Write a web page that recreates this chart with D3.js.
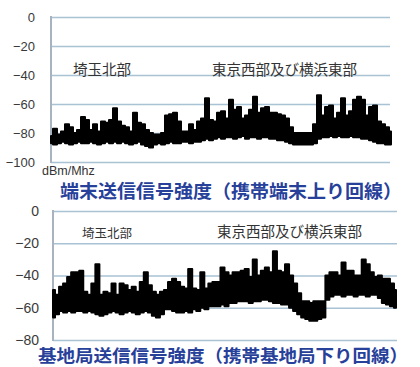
<!DOCTYPE html>
<html>
<head>
<meta charset="utf-8">
<script src="https://cdn.jsdelivr.net/npm/d3@7"></script>
<style>
  body { margin: 0; background: #fff; }
  svg { display: block; }
  .tick text { font-family: "Liberation Sans", Arial, sans-serif; fill: #3a3a3a; }
</style>
</head>
<body>
<div id="container"></div>
<script>
// upper / lower edge of the noisy trace, dBm/MHz, one value per sample
var uplinkHigh = [-82,-77,-81,-79,-74,-76,-80,-78,-69,-71,-78,-74,-79,-72,-73,-71,-63,-72,-75,-76,
    -79,-66,-73,-74,-78,-80,-81,-81,-80,-68,-67,-66,-72,-79,-79,-74,-78,-72,-70,-56,
    -71,-72,-66,-65,-70,-57,-64,-62,-70,-68,-64,-55,-66,-63,-62,-66,-66,-67,-68,-70,
    -76,-80,-80,-80,-80,-80,-74,-54,-68,-62,-61,-70,-66,-56,-68,-65,-57,-55,-57,-68,
    -62,-61,-72,-74,-76,-79];
var uplinkLow = [-87,-88,-87,-86,-87,-88,-87,-86,-87,-87,-86,-87,-88,-87,-86,
    -87,-86,-87,-86,-87,-88,-87,-86,-88,-89,-90,-88,-87,-88,
    -87,-86,-87,-87,-86,-86,-87,-86,-86,-85,
    -84,-85,-84,-83,-84,-83,-83,-84,-83,-82,-84,-83,-83,-84,-83,-83,-84,-84,-85,-85,-86,
    -87,-88,-88,-88,-88,-88,-87,
    -84,-83,-83,-82,-83,-82,-83,-83,-82,-83,-83,-84,-84,
    -85,-86,-87,-87,-88,-88];
var downlinkHigh = [-49,-52,-47,-45,-41,-38,-38,-37,-50,-52,-45,-33,-52,-50,-51,-45,-52,-45,-46,-49,
    -47,-50,-44,-38,-46,-50,-52,-50,-49,-44,-42,-44,-47,-48,-36,-48,-49,-38,-48,-45,
    -44,-44,-35,-38,-40,-38,-38,-37,-36,-41,-30,-40,-37,-35,-38,-25,-37,-38,-33,-40,
    -45,-51,-56,-56,-57,-56,-56,-56,-40,-38,-38,-40,-32,-37,-37,-40,-40,-30,-33,-38,
    -41,-40,-42,-42,-45,-49];
var downlinkLow = [-66,-64,-62,-63,-62,-63,-62,-62,-63,-62,-63,
    -64,-65,-64,-63,-62,-63,-64,-63,-62,-63,-64,-63,-62,-63,-65,-66,-64,
    -61,-61,-62,-63,-63,-62,-63,-61,-62,-60,-61,-59,-59,
    -59,-58,-59,-57,-57,-56,-56,-56,-57,-56,-56,-55,-55,-56,-57,-57,-58,-58,-60,
    -62,-64,-66,-67,-68,-68,-67,-66,
    -55,-53,-52,-52,-53,-52,-52,-53,-52,-52,-53,-52,-52,-54,-57,-58,-59,-60];

var uplinkTicks = [0, -20, -40, -60, -80, -100];
var downlinkTicks = [0, -20, -40, -60, -80];
var regions = ["埼玉北部", "東京西部及び横浜東部"];
var unitLabel = "dBm/Mhz";
var titles = ["端末送信信号強度（携帯端末上り回線）", "基地局送信信号強度（携帯基地局下り回線）"];

function init() {
    var svg = d3.select("#container")
        .append("svg")
        .attr("width", 420)
        .attr("height", 367);

    function panel(cfg) {
        var g = svg.append("g")
            .attr("transform", "translate(" + cfg.left + "," + cfg.top + ")");

        var x = d3.scaleLinear().domain([0, cfg.high.length - 1]).range([0, cfg.traceWidth]);
        var y = d3.scaleLinear().domain([d3.min(cfg.ticks), 0]).range([cfg.height, 0]);

        var axis = g.append("g")
            .call(d3.axisLeft(y).tickValues(cfg.ticks).tickSize(-cfg.width)
                .tickPadding(cfg.pad).tickFormat(d3.format("d")));
        axis.select(".domain").remove();
        axis.selectAll(".tick line")
            .attr("stroke", "#a9c2d4")
            .attr("stroke-width", 1.3);
        axis.selectAll(".tick text")
            .style("font-size", cfg.tickFont + "px");

        g.append("line")
            .attr("x1", 0).attr("x2", 0)
            .attr("y1", -1).attr("y2", cfg.height + 1)
            .attr("stroke", "#a8b3bf")
            .attr("stroke-width", 2);

        var band = cfg.high.map(function (d, i) {
            return { hi: d, lo: cfg.low[i] };
        });

        var area = d3.area()
            .x(function (d, i) { return x(i); })
            .y0(function (d) { return y(d.lo); })
            .y1(function (d) { return y(d.hi); })
            .curve(d3.curveStep);

        g.append("path")
            .datum(band)
            .attr("d", area)
            .attr("fill", "#000")
            .attr("stroke", "#000")
            .attr("stroke-width", 2)
            .attr("stroke-linejoin", "round");

        cfg.labels.forEach(function (l, i) {
            g.append("text")
                .attr("x", l.x)
                .attr("y", l.y)
                .attr("dominant-baseline", "central")
                .style("font-family", "'Noto Sans CJK JP', sans-serif")
                .style("font-size", l.size + "px")
                .style("fill", "#333")
                .text(regions[i]);
        });
        return g;
    }

    panel({
        left: 51, top: 17, width: 339, traceWidth: 340, height: 145,
        ticks: uplinkTicks, high: uplinkHigh, low: uplinkLow, pad: 16, tickFont: 13,
        labels: [{ x: 22, y: 51, size: 14.5 }, { x: 161, y: 51, size: 14.5 }]
    });

    panel({
        left: 53, top: 211, width: 344, traceWidth: 343, height: 129,
        ticks: downlinkTicks, high: downlinkHigh, low: downlinkLow, pad: 14, tickFont: 14,
        labels: [{ x: 29, y: 21, size: 12.5 }, { x: 164, y: 19, size: 14.5 }]
    });

    svg.append("text")
        .attr("x", 42)
        .attr("y", 171)
        .attr("dominant-baseline", "central")
        .style("font-family", "'Liberation Sans', Arial, sans-serif")
        .style("font-size", "12.5px")
        .style("fill", "#333")
        .text(unitLabel);

    svg.append("text")
        .attr("x", 60)
        .attr("y", 190)
        .attr("dominant-baseline", "central")
        .attr("textLength", 342)
        .attr("lengthAdjust", "spacingAndGlyphs")
        .style("font-family", "'Noto Sans CJK JP', sans-serif")
        .style("font-weight", "bold")
        .style("font-size", "18.5px")
        .style("fill", "#27409a")
        .text(titles[0]);

    svg.append("text")
        .attr("x", 38)
        .attr("y", 354)
        .attr("dominant-baseline", "central")
        .attr("textLength", 370)
        .attr("lengthAdjust", "spacingAndGlyphs")
        .style("font-family", "'Noto Sans CJK JP', sans-serif")
        .style("font-weight", "bold")
        .style("font-size", "17.5px")
        .style("fill", "#27409a")
        .text(titles[1]);
}
init();
</script>
</body>
</html>
